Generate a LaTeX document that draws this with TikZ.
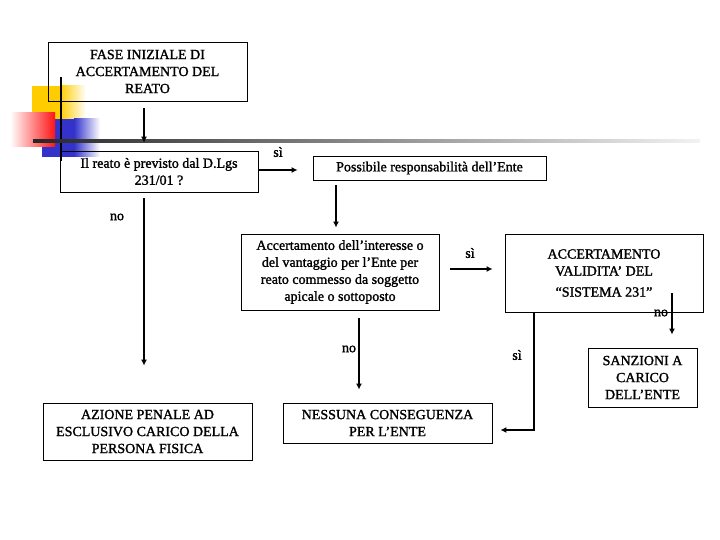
\documentclass[tikz,border=0pt]{standalone}
\usepackage{fontspec}
\setmainfont{Liberation Serif}
\newfontfamily\heavyserif{Liberation Serif}[FakeBold=1.5]
\usetikzlibrary{positioning,calc,arrows.meta}
\definecolor{myyellow}{RGB}{255,204,0}
\definecolor{myred}{RGB}{255,20,20}
\definecolor{myblue}{RGB}{51,51,204}

\begin{document}
\begin{tikzpicture}[x=1pt,y=-1pt,
	every node/.style={font=\heavyserif\fontsize{14}{17}\selectfont,align=center,inner sep=0pt},
	boxnode/.style={draw,line width=0.8pt},
	signnode/.style={},
	arrowline/.style={line width=1.6pt,-{Latex[length=6pt,width=6pt]}},
	]
	\useasboundingbox (0,0) rectangle (720,540);
	
	% the coloured squares in the corner
	\fill[myyellow] (32,86) rectangle (60,119);
	\shade[left color=myyellow,right color=white] (60,86) rectangle (86,119);
	\fill[myblue] (42,119) rectangle (74,157);
	\shade[left color=myblue,right color=white] (74,119) rectangle (100,157);
	\shade[left color=white,right color=myred] (10,113) rectangle (55,147);
	\fill[black] (60,77) rectangle (62,161);
	\shade[left color=black!85,middle color=black!45,right color=black!5] (33,139.5) rectangle (700,142.5);
	
	% the boxes
	\node[boxnode,minimum width=199pt,minimum height=59pt] (fase) at (147.5,71.5) {FASE INIZIALE DI\\ACCERTAMENTO DEL\\REATO};
	\node[boxnode,minimum width=198pt,minimum height=41pt] (reato) at (159,171.5) {Il reato è previsto dal D.Lgs\\231/01 ?};
	\node[boxnode,minimum width=233pt,minimum height=24pt] (poss) at (429.5,168) {Possibile responsabilità dell’Ente};
	\node[boxnode,minimum width=198pt,minimum height=76pt] (acc) at (340,272) {Accertamento dell’interesse o\\del vantaggio per l’Ente per\\reato commesso da soggetto\\apicale o sottoposto};
	\node[boxnode,minimum width=198pt,minimum height=78pt] (valid) at (604,273) {ACCERTAMENTO\\VALIDITA’ DEL\\[4pt]“SISTEMA 231”};
	\node[boxnode,minimum width=109pt,minimum height=59pt] (sanz) at (642.5,377.5) {SANZIONI A\\CARICO\\DELL’ENTE};
	\node[boxnode,minimum width=209pt,minimum height=40pt] (nessuna) at (387.5,423) {NESSUNA CONSEGUENZA\\PER L’ENTE};
	\node[boxnode,minimum width=209pt,minimum height=57pt] (azione) at (147.5,431.5) {AZIONE PENALE AD\\ESCLUSIVO CARICO DELLA\\PERSONA FISICA};
	
	% the answers
	\node[signnode] (si1) at (278,152) {sì};
	\node[signnode] (no1) at (117,217) {no};
	\node[signnode] (si2) at (470,253) {sì};
	\node[signnode] (no2) at (349,349) {no};
	\node[signnode] (si3) at (517,355) {sì};
	\node[signnode] (no3) at (661,313) {no};
	
	% the arrows
	\draw[arrowline,shorten <=7pt,shorten >=8pt] ([xshift=-3.5pt]fase.south) -- ([xshift=-3.5pt]fase.south |- reato.north);
	\draw[arrowline,shorten >=15pt] ([yshift=1.5pt]reato.east) -- ([yshift=1.5pt]reato.east -| poss.west);
	\draw[arrowline,shorten <=5pt,shorten >=6pt] ([xshift=-93.5pt]poss.south) -- ([xshift=-93.5pt]poss.south |- acc.north);
	\draw[arrowline,shorten <=6pt,shorten >=37pt] ([xshift=-15pt]reato.south) -- ([xshift=-15pt]reato.south |- azione.north);
	\draw[arrowline,shorten <=11pt,shorten >=12pt] ([yshift=3pt]acc.east) -- ([yshift=3pt]acc.east -| valid.west);
	\draw[arrowline,shorten <=8pt,shorten >=13pt] ([xshift=19pt]acc.south) -- ([xshift=19pt]acc.south |- nessuna.north);
	\draw[arrowline,shorten >=8pt] ([xshift=-70pt]valid.south) |- ([yshift=-7pt]nessuna.east);
	\draw[arrowline,shorten >=13pt] ([xshift=68pt,yshift=19pt]valid.south) -- ([xshift=68pt]valid.south |- sanz.north);
	
\end{tikzpicture}
\end{document}
